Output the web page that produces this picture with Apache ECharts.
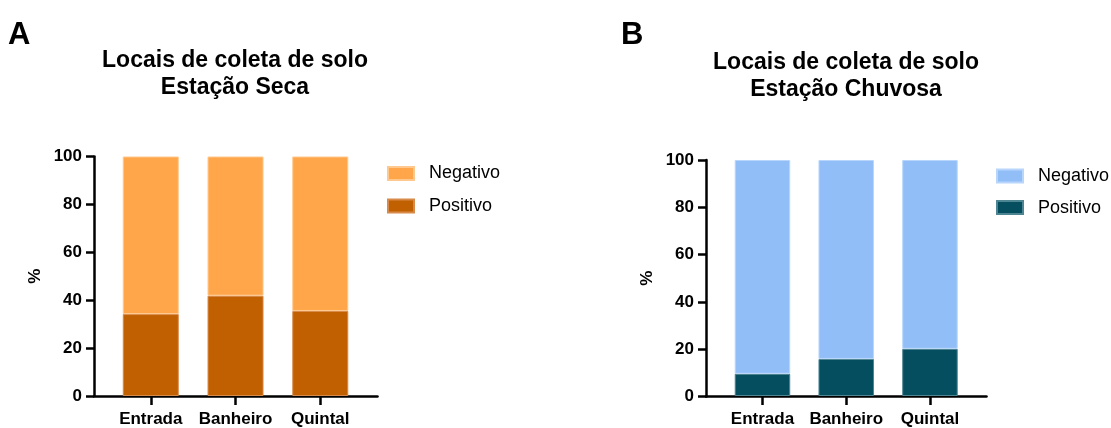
<!DOCTYPE html>
<html>
<head>
<meta charset="utf-8">
<script src="https://cdn.jsdelivr.net/npm/echarts@6/dist/echarts.min.js"></script>
<style>
html,body{margin:0;padding:0;background:#fff;}
#c{width:1111px;height:428px;}
</style>
</head>
<body>
<div id="c"></div>
<script>
const categories = ['Entrada', 'Banheiro', 'Quintal'];
const yTicks = [0, 20, 40, 60, 80, 100];
const secaPositivo = [34.2, 41.9, 35.5];
const secaNegativo = [65.8, 58.1, 64.5];
const chuvosaPositivo = [9.4, 15.7, 20.0];
const chuvosaNegativo = [90.6, 84.3, 80.0];

const FONT = '"Liberation Sans", Arial, sans-serif';
const AX = { color: '#000', width: 2.5 };
const labelStyle = { color: '#000', fontFamily: FONT, fontWeight: 'bold', fontSize: 17 };

// frame axes (visible lines, y ticks & labels)
function frameX(gridIndex) {
  return {
    type: 'value', gridIndex, min: 0, max: 1,
    splitLine: { show: false },
    axisLine: { show: true, onZero: false, lineStyle: AX },
    axisTick: { show: false }, axisLabel: { show: false }
  };
}
function frameY(gridIndex) {
  return {
    type: 'value', gridIndex, min: 0, max: 100, interval: 20,
    name: '%', nameLocation: 'middle', nameGap: 50, nameRotate: 90,
    nameTextStyle: labelStyle,
    splitLine: { show: false },
    axisLine: { show: true, onZero: false, lineStyle: AX },
    axisTick: { show: true, length: 8, lineStyle: AX },
    axisLabel: Object.assign({ margin: 12, formatter: v => (yTicks.indexOf(v) >= 0 ? String(v) : '') }, labelStyle)
  };
}
// bar axes (category x with ticks & labels, hidden y)
function barX(gridIndex) {
  return {
    type: 'category', gridIndex, data: categories,
    axisLine: { show: false },
    axisTick: { show: true, interval: 0, alignWithLabel: true, length: 9, lineStyle: AX },
    axisLabel: Object.assign({ margin: 15, interval: 0, hideOverlap: false }, labelStyle)
  };
}
function barY(gridIndex) {
  return { type: 'value', gridIndex, min: 0, max: 100, show: false, splitLine: { show: false } };
}
function bar(name, data, color, border, idx, stack, w) {
  return {
    type: 'bar', name, data, xAxisIndex: idx, yAxisIndex: idx,
    stack, barWidth: w,
    itemStyle: { color, borderColor: border, borderWidth: 1 },
    emphasis: { disabled: true }
  };
}
function legend(left, top, gap, names) {
  return {
    orient: 'vertical', left, top, itemWidth: 26, itemHeight: 13, itemGap: gap,
    icon: 'rect', data: names,
    textStyle: { color: '#000', fontFamily: FONT, fontSize: 18, lineHeight: 18, padding: [0, 0, 0, 10] }
  };
}

const chart = echarts.init(document.getElementById('c'), null, { renderer: 'canvas' });
chart.setOption({
  animation: false,
  backgroundColor: '#fff',
  title: [
    { text: 'A', left: 3, top: 15, textStyle: { fontFamily: FONT, fontWeight: 'bold', fontSize: 31, color: '#000' } },
    { text: 'B', left: 616, top: 15, textStyle: { fontFamily: FONT, fontWeight: 'bold', fontSize: 31, color: '#000' } },
    { text: 'Locais de coleta de solo\nEstação Seca', left: 230, top: 42, textAlign: 'center',
      textStyle: { fontFamily: FONT, fontWeight: 'bold', fontSize: 23, lineHeight: 27, color: '#000' } },
    { text: 'Locais de coleta de solo\nEstação Chuvosa', left: 841, top: 44, textAlign: 'center',
      textStyle: { fontFamily: FONT, fontWeight: 'bold', fontSize: 23, lineHeight: 27, color: '#000' } }
  ],
  grid: [
    { left: 94, top: 156.5, width: 283.5, height: 239.5 },
    { left: 706, top: 160, width: 280.5, height: 236.5 },
    { left: 108.4, top: 156.5, width: 254.25, height: 239.5 },
    { left: 720.6, top: 160, width: 251.25, height: 236.5 }
  ],
  xAxis: [frameX(0), frameX(1), barX(2), barX(3)],
  yAxis: [frameY(0), frameY(1), barY(2), barY(3)],
  legend: [
    legend(382, 159.5, 14.5, ['Negativo', 'Positivo']),
    legend(991, 162, 13.6, ['Negativo ', 'Positivo '])
  ],
  series: [
    bar('Positivo', secaPositivo, '#C06000', '#D88A4A', 2, 'a', 56),
    bar('Negativo', secaNegativo, '#FFA64A', '#FFC88E', 2, 'a', 56),
    bar('Positivo ', chuvosaPositivo, '#044E60', '#4D8592', 3, 'b', 55.5),
    bar('Negativo ', chuvosaNegativo, '#92BEF8', '#B8D6FB', 3, 'b', 55.5)
  ]
});
</script>
</body>
</html>
